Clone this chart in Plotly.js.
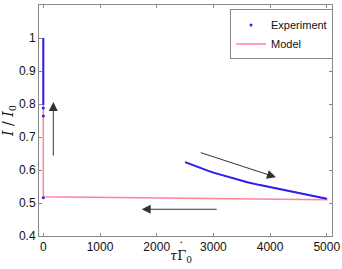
<!DOCTYPE html>
<html>
<head>
<meta charset="utf-8">
<script src="https://cdn.plot.ly/plotly-3.0.1.min.js"></script>
<style>html,body{margin:0;padding:0;background:#fff}#chart{width:342px;height:269px}</style>
</head>
<body>
<div id="chart"></div>
<script>
// Experiment: dense vertical segment at tau*Gamma0 = 0
var expVertX = [0, 0];
var expVertY = [0.797, 1.0];
// Experiment: isolated points at 0
var expSparseX = [0, 0, 0];
var expSparseY = [0.788, 0.764, 0.516];
// Experiment: decaying curve
var expCurveX = [2500, 2600, 2700, 2800, 2900, 3000, 3200, 3400, 3600, 3800, 4000, 4200, 4400, 4600, 4800, 5000];
var expCurveY = [0.624, 0.617, 0.611, 0.604, 0.598, 0.592, 0.582, 0.572, 0.563, 0.555, 0.548, 0.541, 0.534, 0.527, 0.520, 0.513];
// Model path
var modelX = [2500, 2600, 2700, 2800, 2900, 3000, 3200, 3400, 3600, 3800, 4000, 4200, 4400, 4600, 4800, 5000, 5000, 0, 0];
var modelY = [0.624, 0.617, 0.611, 0.604, 0.598, 0.592, 0.582, 0.572, 0.563, 0.555, 0.548, 0.541, 0.534, 0.527, 0.520, 0.513, 0.510, 0.519, 1.0];
// Arrows: [tailX, tailY, headX, headY]
var arrows = [
  [176, 0.639, 176, 0.806],
  [2751, 0.654, 4104, 0.578],
  [3085, 0.481, 1735, 0.481]
];
var xTicks = [0, 1000, 2000, 3000, 4000, 5000];
var yTicks = [0.4, 0.5, 0.6, 0.7, 0.8, 0.9, 1.0, 1.1];

var blue = 'rgba(20,20,255,0.9)';
var pink = '#ff8599';

var traces = [
  {x: modelX, y: modelY, mode: 'lines', name: 'Model', line: {color: pink, width: 1.5}, legendrank: 2, showlegend: true},
  {x: expVertX, y: expVertY, mode: 'lines', line: {color: blue, width: 2}, showlegend: false, hoverinfo: 'skip'},
  {x: expCurveX, y: expCurveY, mode: 'lines', line: {color: blue, width: 2}, showlegend: false},
  {x: expSparseX, y: expSparseY, mode: 'markers', name: 'Experiment', marker: {color: blue, size: 3}, legendrank: 1, showlegend: true}
];

var annotations = arrows.map(function (a) {
  return {
    x: a[2], y: a[3], ax: a[0], ay: a[1],
    xref: 'x', yref: 'y', axref: 'x', ayref: 'y',
    showarrow: true, arrowhead: 2, arrowsize: 1.8, arrowwidth: 1,
    arrowcolor: '#333', text: ''
  };
});
// x-axis title and the dot accent over Gamma
annotations.push({
  xref: 'paper', yref: 'paper', x: 0.483, y: -0.087, xanchor: 'center', yanchor: 'middle',
  showarrow: false, text: '<i>τ</i>Γ<sub>0</sub>', font: {family: 'DejaVu Serif, serif', size: 13, color: '#111'}
});
annotations.push({
  xref: 'paper', yref: 'paper', x: 0.486, y: -0.05, xanchor: 'center', yanchor: 'middle',
  showarrow: false, text: '˙', font: {family: 'DejaVu Serif, serif', size: 13, color: '#111'}
});

var axisCommon = {
  showgrid: false, zeroline: false, showline: true, linecolor: '#888', linewidth: 1,
  mirror: 'ticks', ticks: 'inside', ticklen: 3, tickcolor: '#888',
  tickfont: {family: 'Liberation Sans, Arial, sans-serif', size: 12, color: '#111'}
};

var layout = {
  width: 342, height: 269,
  margin: {l: 39, r: 10, t: 5, b: 33},
  paper_bgcolor: '#fff', plot_bgcolor: '#fff',
  showlegend: true,
  legend: {
    x: 0.652, y: 0.981, xanchor: 'left', yanchor: 'top',
    bgcolor: '#fff', bordercolor: '#888', borderwidth: 1,
    font: {family: 'Liberation Sans, Arial, sans-serif', size: 11, color: '#111'},
    itemwidth: 30, tracegroupgap: 0
  },
  xaxis: Object.assign({}, axisCommon, {
    range: [-76, 5092], tickvals: xTicks, ticktext: xTicks.map(String)
  }),
  yaxis: Object.assign({}, axisCommon, {
    range: [0.4, 1.1], tickvals: yTicks, ticktext: yTicks.map(function (v) { return v === 1 ? '1' : String(v); }),
    title: {text: '<i>I</i> / <i>I</i><sub>0</sub>', font: {family: 'DejaVu Serif, serif', size: 14, color: '#111'}, standoff: 2}
  }),
  annotations: annotations
};

Plotly.newPlot('chart', traces, layout, {displayModeBar: false, staticPlot: true});
</script>
</body>
</html>
